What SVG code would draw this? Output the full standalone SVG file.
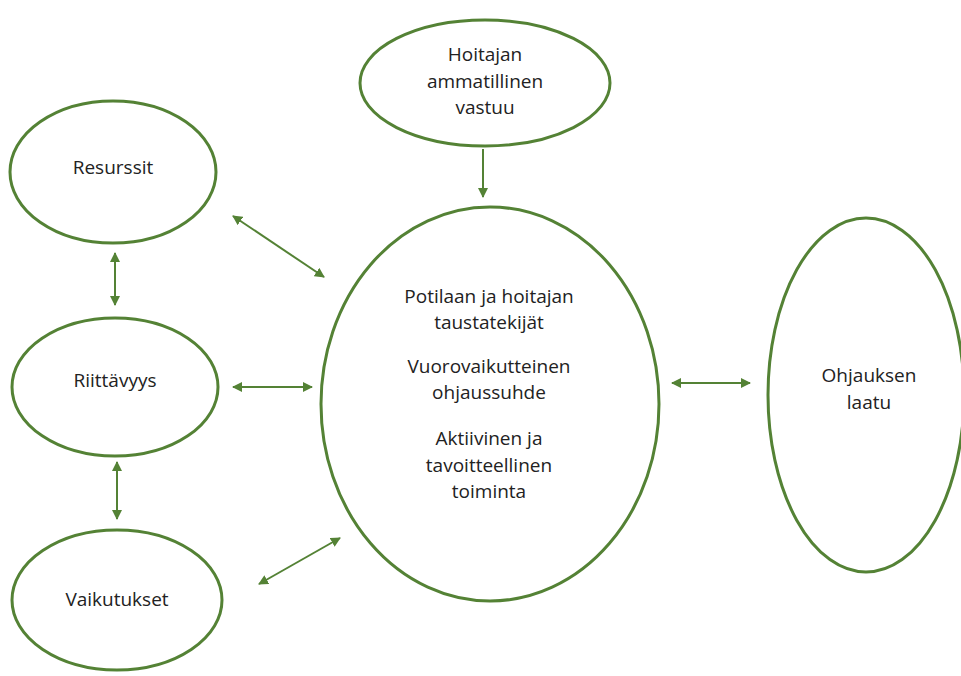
<svg xmlns="http://www.w3.org/2000/svg" width="961" height="676" viewBox="0 0 961 676">
<defs>
<marker id="ah" viewBox="0 0 10 10" refX="9" refY="5" markerWidth="5" markerHeight="5" orient="auto-start-reverse" markerUnits="strokeWidth">
<path d="M0,0 L10,5 L0,10 z" fill="#548235"/>
</marker>
<style>
.n ellipse{fill:#fff;stroke:#548235;stroke-width:3}
text{font-family:"Open Sans","Liberation Sans",sans-serif;font-size:19px;fill:#222;text-anchor:middle}
.c line{stroke:#548235;stroke-width:2;marker-end:url(#ah)}
.c line.b{marker-start:url(#ah)}
</style>
</defs>
<rect width="961" height="676" fill="#fff"/>
<g class="n" id="hoitajan"><ellipse cx="485" cy="83" rx="125" ry="63"/><text x="485" y="61">Hoitajan</text><text x="485" y="88">ammatillinen</text><text x="485" y="114">vastuu</text></g>
<g class="n" id="resurssit"><ellipse cx="113" cy="172" rx="103" ry="71"/><text x="113" y="174">Resurssit</text></g>
<g class="n" id="riittavyys"><ellipse cx="115" cy="387" rx="103" ry="69"/><text x="115" y="387">Riittävyys</text></g>
<g class="n" id="vaikutukset"><ellipse cx="117" cy="600" rx="105" ry="70"/><text x="117" y="606">Vaikutukset</text></g>
<g class="n" id="keski"><ellipse cx="490" cy="404" rx="169" ry="197"/><text x="489" y="303">Potilaan ja hoitajan</text><text x="489" y="329">taustatekijät</text><text x="489" y="373">Vuorovaikutteinen</text><text x="489" y="399">ohjaussuhde</text><text x="489" y="445">Aktiivinen ja</text><text x="489" y="472">tavoitteellinen</text><text x="489" y="498">toiminta</text></g>
<g class="n" id="laatu"><ellipse cx="866" cy="395" rx="98" ry="177"/><text x="869" y="382">Ohjauksen</text><text x="869" y="409">laatu</text></g>
<g class="c" id="connectors">
<line x1="483" y1="149" x2="483" y2="197"/>
<line class="b" x1="233" y1="216" x2="324" y2="277"/>
<line class="b" x1="115" y1="253" x2="115" y2="305"/>
<line class="b" x1="233" y1="387" x2="312" y2="387"/>
<line class="b" x1="117" y1="462" x2="117" y2="519"/>
<line class="b" x1="259" y1="584" x2="340" y2="538"/>
<line class="b" x1="672" y1="383" x2="750" y2="383"/>
</g>
</svg>
